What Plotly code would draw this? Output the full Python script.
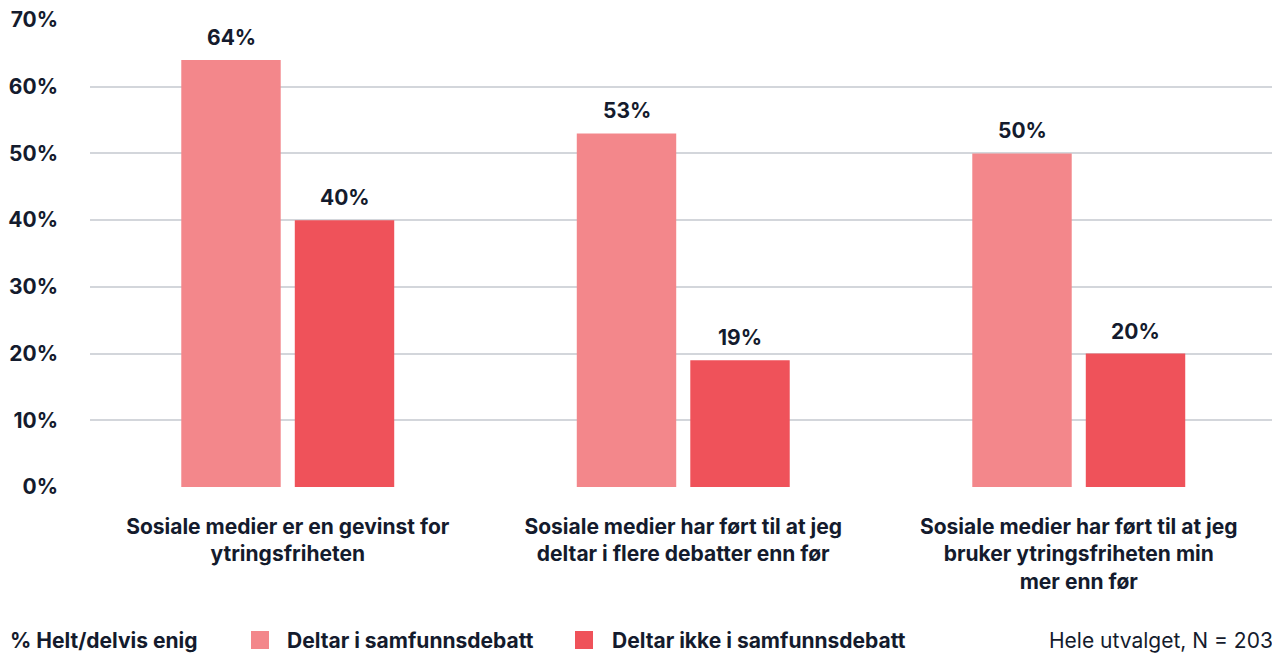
import plotly.graph_objects as go

categories = [
    "Sosiale medier er en gevinst for<br>ytringsfriheten",
    "Sosiale medier har ført til at jeg<br>deltar i flere debatter enn før",
    "Sosiale medier har ført til at jeg<br>bruker ytringsfriheten min<br>mer enn før",
]
series_names = ["Deltar i samfunnsdebatt", "Deltar ikke i samfunnsdebatt"]
deltar = [64, 53, 50]
deltar_ikke = [40, 19, 20]
y_ticks = [0, 10, 20, 30, 40, 50, 60, 70]
legend_title = "% Helt/delvis enig"
note = "Hele utvalget, N = 203"

colors = ["#F3878B", "#EF525A"]
text_color = "#141B2D"
FONT = "Inter"
FS = 21

W, H = 1272, 654
L, R, T, B = 90, 0, 20, 167
plot_w = W - L - R
plot_h = H - T - B

x_pos = list(range(len(categories)))
x_range = [-0.5, 2.4886]
bargap = 0.426
bargroupgap = 0.124

fig = go.Figure()
for name, vals, col in zip(series_names, [deltar, deltar_ikke], colors):
    fig.add_trace(go.Bar(
        x=x_pos, y=vals, name=name, marker=dict(color=col, line=dict(width=0)),
        showlegend=False, hoverinfo="y+name",
    ))

# data labels above bars (positions derived from data + bar geometry)
n = 2
slot = (1 - bargap) / n
for i, vals in enumerate([deltar, deltar_ikke]):
    off = (i - (n - 1) / 2) * slot
    for xi, v in zip(x_pos, vals):
        fig.add_annotation(
            x=xi + off, y=v, xref="x", yref="y", text=f"<b>{v}%</b>",
            showarrow=False, yanchor="bottom", yshift=8,
            font=dict(family=FONT, size=FS, color=text_color),
        )

def px_x(p):
    return (p - L) / plot_w

def px_y(p):
    return (H - B - p) / plot_h

# legend (manual)
leg_y = 640
fig.add_annotation(x=px_x(8), y=px_y(leg_y), xref="paper", yref="paper",
                   text=f"<b>{legend_title}</b>", showarrow=False, xanchor="left",
                   yanchor="middle", font=dict(family=FONT, size=FS, color=text_color))
for sx, tx, name, col in [(251, 285, series_names[0], colors[0]),
                          (575, 610, series_names[1], colors[1])]:
    fig.add_shape(type="rect", xref="paper", yref="paper",
                  x0=px_x(sx), x1=px_x(sx + 18), y0=px_y(leg_y - 9), y1=px_y(leg_y + 9),
                  fillcolor=col, line=dict(width=0))
    fig.add_annotation(x=px_x(tx), y=px_y(leg_y), xref="paper", yref="paper",
                       text=f"<b>{name}</b>", showarrow=False, xanchor="left",
                       yanchor="middle", font=dict(family=FONT, size=FS, color=text_color))
fig.add_annotation(x=px_x(1047), y=px_y(leg_y), xref="paper", yref="paper",
                   text=note, showarrow=False, xanchor="left", yanchor="middle",
                   font=dict(family=FONT, size=FS, color=text_color))

fig.update_layout(
    width=W, height=H,
    margin=dict(l=L, r=R, t=T, b=B, pad=0),
    paper_bgcolor="white", plot_bgcolor="white",
    barmode="group", bargap=bargap, bargroupgap=bargroupgap,
    font=dict(family=FONT, color=text_color),
    xaxis=dict(
        range=x_range, tickmode="array", tickvals=x_pos,
        ticktext=[f"<b>{c}</b>" for c in categories],
        tickfont=dict(family=FONT, size=FS, color=text_color),
        showgrid=False, zeroline=False, showline=False, ticks="",
        ticklabelstandoff=25,
    ),
    yaxis=dict(
        range=[0, 70], tickmode="array", tickvals=y_ticks,
        ticktext=[f"<b>{v}%</b>" for v in y_ticks],
        tickfont=dict(family=FONT, size=FS, color=text_color),
        showgrid=True, gridcolor="#D3D6DB", gridwidth=1.5,
        zeroline=False, showline=False, ticks="", ticklabelstandoff=31,
    ),
)

fig.write_html(
    "out.html",
    config={"displayModeBar": False},
    post_script="document.body.style.margin='0';document.body.style.overflow='hidden';",
)
